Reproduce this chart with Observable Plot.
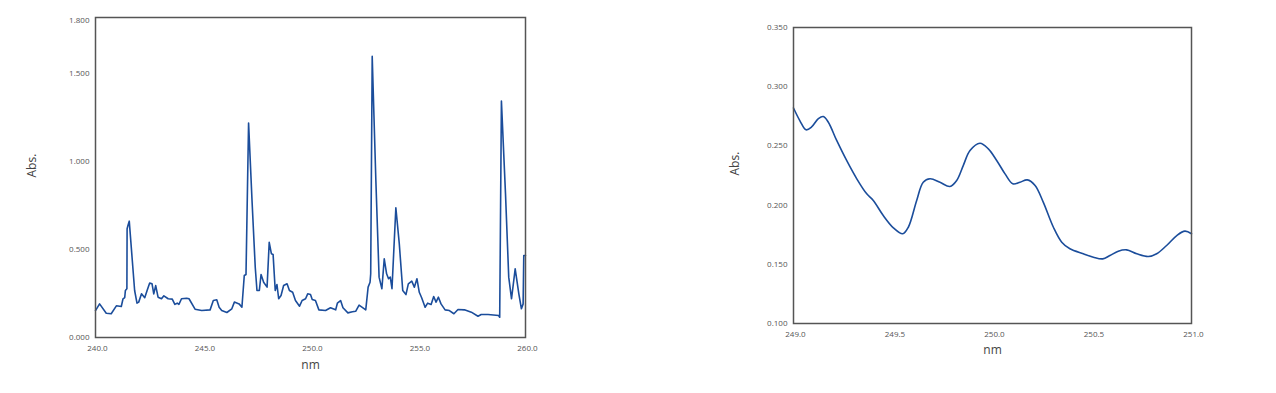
<!DOCTYPE html>
<html>
<head>
<meta charset="utf-8">
<script src="https://cdn.jsdelivr.net/npm/d3@7"></script>
<script src="https://cdn.jsdelivr.net/npm/@observablehq/plot@0.6"></script>
<style>
  html, body { margin: 0; padding: 0; background: #fff; }
  #wrap { position: relative; width: 1276px; height: 393px; font-family: "Open Sans", sans-serif; }
  #left { position: absolute; left: 0; top: 0; }
  #right { position: absolute; left: 700px; top: 0; }
</style>
</head>
<body>
<div id="wrap"><div id="left"></div><div id="right"></div></div>
<script>
// Left spectrum: wavelength (nm) and absorbance
const leftNm = [240.00,240.19,240.50,240.73,240.97,241.20,241.28,241.36,241.39,241.46,241.47,241.51,241.57,241.70,241.82,241.93,242.01,242.14,242.29,242.40,242.52,242.63,242.71,242.80,242.91,243.07,243.18,243.38,243.57,243.69,243.80,243.88,244.00,244.24,244.35,244.63,244.94,245.33,245.48,245.64,245.75,245.87,246.11,246.34,246.46,246.68,246.81,246.92,247.00,247.12,247.28,247.43,247.51,247.62,247.70,247.82,247.98,248.08,248.18,248.26,248.36,248.44,248.52,248.63,248.75,248.91,249.02,249.17,249.30,249.49,249.61,249.77,249.87,250.00,250.08,250.23,250.39,250.70,250.93,251.17,251.25,251.40,251.51,251.74,251.95,252.10,252.26,252.57,252.68,252.77,252.80,252.87,253.04,253.19,253.32,253.43,253.54,253.63,253.71,253.79,253.97,254.13,254.29,254.44,254.55,254.71,254.83,254.95,255.06,255.17,255.33,255.45,255.61,255.73,255.84,255.95,256.07,256.26,256.46,256.67,256.86,257.16,257.48,257.79,257.94,258.26,258.75,258.80,258.88,259.07,259.22,259.35,259.52,259.69,259.81,259.89,259.92,260.00];
const leftAbs = [0.153,0.191,0.138,0.135,0.180,0.176,0.220,0.227,0.267,0.277,0.618,0.636,0.661,0.456,0.267,0.195,0.201,0.248,0.226,0.267,0.309,0.305,0.248,0.295,0.229,0.220,0.237,0.220,0.218,0.188,0.195,0.188,0.220,0.223,0.220,0.161,0.153,0.157,0.210,0.214,0.172,0.153,0.142,0.163,0.201,0.191,0.172,0.352,0.358,1.218,0.778,0.399,0.267,0.267,0.358,0.314,0.286,0.541,0.476,0.472,0.267,0.301,0.220,0.239,0.295,0.305,0.267,0.257,0.210,0.178,0.210,0.220,0.248,0.244,0.216,0.210,0.157,0.153,0.169,0.157,0.195,0.210,0.169,0.140,0.146,0.149,0.184,0.157,0.286,0.314,0.362,1.597,0.892,0.343,0.277,0.447,0.362,0.334,0.343,0.277,0.737,0.532,0.267,0.244,0.305,0.320,0.286,0.334,0.257,0.226,0.172,0.195,0.188,0.233,0.201,0.229,0.191,0.157,0.153,0.135,0.159,0.157,0.144,0.121,0.131,0.131,0.125,0.115,1.343,0.816,0.343,0.220,0.390,0.248,0.163,0.191,0.466,0.466];
const leftXTicks = [240, 245, 250, 255, 260];
const leftYTicks = [0, 0.5, 1.0, 1.5, 1.8];

// Right spectrum (zoomed)
const rightNm = [249.000,249.033,249.063,249.091,249.125,249.150,249.175,249.217,249.267,249.318,249.368,249.401,249.451,249.502,249.549,249.577,249.619,249.652,249.686,249.736,249.786,249.820,249.853,249.887,249.937,249.979,250.021,250.063,250.102,250.138,250.175,250.214,250.255,250.306,250.348,250.389,250.456,250.507,250.554,250.590,250.632,250.674,250.725,250.783,250.825,250.875,250.926,250.967,251.000];
const rightAbs = [0.282,0.271,0.2636,0.266,0.273,0.2748,0.270,0.2546,0.2377,0.2222,0.2095,0.2039,0.1912,0.1808,0.1758,0.1813,0.2039,0.2193,0.2222,0.2193,0.2157,0.2208,0.2334,0.2461,0.2523,0.2475,0.2377,0.2264,0.2180,0.2193,0.2213,0.2166,0.2025,0.1813,0.1687,0.1631,0.1589,0.1560,0.1546,0.1574,0.1611,0.1622,0.1589,0.1566,0.1589,0.1659,0.1743,0.1780,0.1758];
const rightXTicks = [249.0, 249.5, 250.0, 250.5, 251.0];
const rightYTicks = [0.10, 0.15, 0.20, 0.25, 0.30, 0.35];

const xLabel = "nm";
const yLabel = "Abs.";

const lineColor = "#1b4d9b";
const frameColor = "#555";
const tickColor = "#555";

function chart(nm, abs, opts) {
  const data = nm.map((x, i) => ({x, y: abs[i]}));
  return Plot.plot({
    width: opts.width,
    height: 393,
    marginLeft: opts.ml,
    marginRight: opts.mr,
    marginTop: opts.mt,
    marginBottom: opts.mb,
    style: {fontFamily: "'Open Sans', sans-serif", background: "#fff"},
    x: {domain: opts.xDomain},
    y: {domain: opts.yDomain},
    marks: [
      Plot.line(data, {x: "x", y: "y", stroke: lineColor, strokeWidth: 1.6, curve: opts.curve}),
      Plot.frame({stroke: frameColor, strokeWidth: 1.5}),
      Plot.axisX({ticks: opts.xTicks, tickFormat: d3.format(".1f"), tickSize: 0, tickPadding: 8, fontSize: 8, fill: tickColor, dx: 2, label: null}),
      Plot.axisY({ticks: opts.yTicks, tickFormat: d3.format(".3f"), tickSize: 0, tickPadding: 6, fontSize: 8, fill: tickColor, label: null}),
      Plot.text([xLabel], {frameAnchor: "bottom", dy: opts.xLabelOffset, fontSize: 12, fill: "#444"}),
      Plot.text([yLabel], {frameAnchor: "left", dx: -opts.yLabelOffset, rotate: -90, fontSize: 12, fill: "#444"})
    ]
  });
}

document.getElementById("left").append(chart(leftNm, leftAbs, {
  width: 560, ml: 95, mr: 35, mt: 17, mb: 56,
  xDomain: [240, 260], yDomain: [0, 1.818],
  xTicks: leftXTicks, yTicks: leftYTicks,
  xLabelOffset: 31, yLabelOffset: 63, curve: "linear"
}));

document.getElementById("right").append(chart(rightNm, rightAbs, {
  width: 540, ml: 93, mr: 49, mt: 27, mb: 70,
  xDomain: [249, 251], yDomain: [0.1, 0.35],
  xTicks: rightXTicks, yTicks: rightYTicks,
  xLabelOffset: 30, yLabelOffset: 58, curve: "catmull-rom"
}));
</script>
</body>
</html>
